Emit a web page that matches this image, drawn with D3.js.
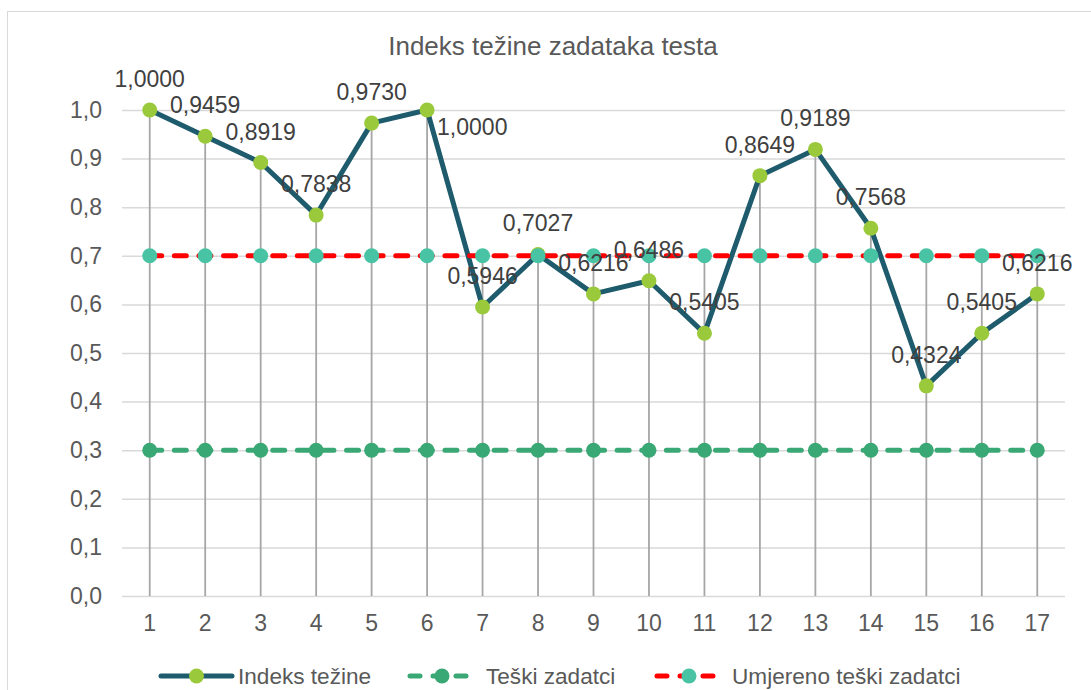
<!DOCTYPE html>
<html>
<head>
<meta charset="utf-8">
<script src="https://cdn.jsdelivr.net/npm/d3@7"></script>
<style>
  html, body { margin: 0; padding: 0; background: #fff; }
  svg { display: block; font-family: "Liberation Sans", Arial, sans-serif; }
</style>
</head>
<body>
<svg id="chart" width="1091" height="690"></svg>
<script>
// ---- data ----
const categories = ["1","2","3","4","5","6","7","8","9","10","11","12","13","14","15","16","17"];
const indeksTezine = [1.0000, 0.9459, 0.8919, 0.7838, 0.9730, 1.0000, 0.5946, 0.7027, 0.6216, 0.6486, 0.5405, 0.8649, 0.9189, 0.7568, 0.4324, 0.5405, 0.6216];
const teskiZadatci = [0.3, 0.3, 0.3, 0.3, 0.3, 0.3, 0.3, 0.3, 0.3, 0.3, 0.3, 0.3, 0.3, 0.3, 0.3, 0.3, 0.3];
const umjerenoTeski = [0.7, 0.7, 0.7, 0.7, 0.7, 0.7, 0.7, 0.7, 0.7, 0.7, 0.7, 0.7, 0.7, 0.7, 0.7, 0.7, 0.7];
const yTicks = [0.0, 0.1, 0.2, 0.3, 0.4, 0.5, 0.6, 0.7, 0.8, 0.9, 1.0];
const seriesNames = ["Indeks težine", "Teški zadatci", "Umjereno teški zadatci"];
const title = "Indeks težine zadataka testa";
// label placement for "Indeks težine" data labels
const labelPlacement = ["above","above","above","above","above","right","above","above","above","above","above","above","above","above","above","above","above"];

// ---- layout ----
const svg = d3.select("#chart");
const margin = { left: 122, right: 1065, top: 110, bottom: 596 };
const locale = d3.formatLocale({ decimal: ",", thousands: ".", grouping: [3], currency: ["", ""] });
const fmt1 = locale.format(".1f");
const fmt4 = locale.format(".4f");

const x = d3.scaleBand().domain(categories).range([margin.left, margin.right]).paddingInner(0).paddingOuter(0);
const y = d3.scaleLinear().domain([0, 1]).range([margin.bottom, margin.top]);
const cx = c => x(c) + x.bandwidth() / 2;

// outer border
svg.append("rect").attr("x", 7.5).attr("y", 11.5).attr("width", 1200).attr("height", 800)
  .attr("fill", "#fff").attr("stroke", "#d9d9d9").attr("stroke-width", 1);

// title
svg.append("text").attr("x", 553).attr("y", 55).attr("text-anchor", "middle")
  .attr("font-size", 26).attr("fill", "#595959").text(title);

// gridlines + y axis
const yAxis = d3.axisLeft(y).tickValues(yTicks).tickFormat(fmt1)
  .tickSize(-(margin.right - margin.left)).tickPadding(20);
const gy = svg.append("g").attr("transform", `translate(${margin.left},0)`).call(yAxis);
gy.select(".domain").remove();
gy.selectAll(".tick line").attr("stroke", "#d9d9d9").attr("stroke-width", 1.5);
gy.selectAll(".tick text").attr("font-size", 23).attr("fill", "#595959")
  .attr("font-family", "'Liberation Sans', Arial, sans-serif");

// x axis
const xAxis = d3.axisBottom(x).tickSize(0).tickPadding(19);
const gx = svg.append("g").attr("transform", `translate(0,${margin.bottom})`).call(xAxis);
gx.select(".domain").remove();
gx.selectAll(".tick text").attr("font-size", 23).attr("fill", "#595959")
  .attr("font-family", "'Liberation Sans', Arial, sans-serif");

// drop lines (from highest point to axis)
const maxVals = categories.map((c, i) => Math.max(indeksTezine[i], teskiZadatci[i], umjerenoTeski[i]));
svg.append("g").selectAll("line").data(categories).join("line")
  .attr("x1", c => cx(c)).attr("x2", c => cx(c))
  .attr("y1", (c, i) => y(maxVals[i])).attr("y2", y(0))
  .attr("stroke", "#a6a6a6").attr("stroke-width", 1.8);

const line = d3.line().x((d, i) => cx(categories[i])).y(d => y(d));

function drawSeries(values, lineColor, markerColor, width, dash) {
  const g = svg.append("g");
  g.append("path").datum(values).attr("d", line).attr("fill", "none")
    .attr("stroke", lineColor).attr("stroke-width", width)
    .attr("stroke-linecap", "round").attr("stroke-linejoin", "round")
    .attr("stroke-dasharray", dash || null);
  g.selectAll("circle").data(values).join("circle")
    .attr("cx", (d, i) => cx(categories[i])).attr("cy", d => y(d)).attr("r", 7.5)
    .attr("fill", markerColor);
}

const colors = {
  indeksLine: "#1e5b6c", indeksMarker: "#9ac93b",
  teski: "#3aa874",
  umjLine: "#ff0000", umjMarker: "#48c3a3"
};

drawSeries(indeksTezine, colors.indeksLine, colors.indeksMarker, 5, null);
drawSeries(teskiZadatci, colors.teski, colors.teski, 5, "12,12.6");
drawSeries(umjerenoTeski, colors.umjLine, colors.umjMarker, 5, "12,12.6");

// data labels
svg.append("g").selectAll("text").data(indeksTezine).join("text")
  .attr("x", (d, i) => labelPlacement[i] === "right" ? cx(categories[i]) + 10 : cx(categories[i]))
  .attr("y", (d, i) => labelPlacement[i] === "right" ? y(d) + 25 : y(d) - 23)
  .attr("text-anchor", (d, i) => labelPlacement[i] === "right" ? "start" : "middle")
  .attr("font-size", 23).attr("fill", "#404040")
  .text(d => fmt4(d));

// legend
const legendY = 676;
const legendItems = [
  { name: seriesNames[0], x1: 161, x2: 232, text: 238, line: colors.indeksLine, marker: colors.indeksMarker, dash: null },
  { name: seriesNames[1], x1: 410, x2: 474, text: 486, line: colors.teski, marker: colors.teski, dash: "10,13" },
  { name: seriesNames[2], x1: 657, x2: 721, text: 732, line: colors.umjLine, marker: colors.umjMarker, dash: "10,13" }
];
const lg = svg.append("g").selectAll("g").data(legendItems).join("g");
lg.append("line").attr("x1", d => d.x1).attr("x2", d => d.x2).attr("y1", legendY).attr("y2", legendY)
  .attr("stroke", d => d.line).attr("stroke-width", 5).attr("stroke-linecap", "round")
  .attr("stroke-dasharray", d => d.dash);
lg.append("circle").attr("cx", d => (d.x1 + d.x2) / 2).attr("cy", legendY).attr("r", 7.5)
  .attr("fill", d => d.marker);
lg.append("text").attr("x", d => d.text).attr("y", legendY + 8).attr("font-size", 22.6)
  .attr("fill", "#595959").text(d => d.name);
</script>
</body>
</html>
